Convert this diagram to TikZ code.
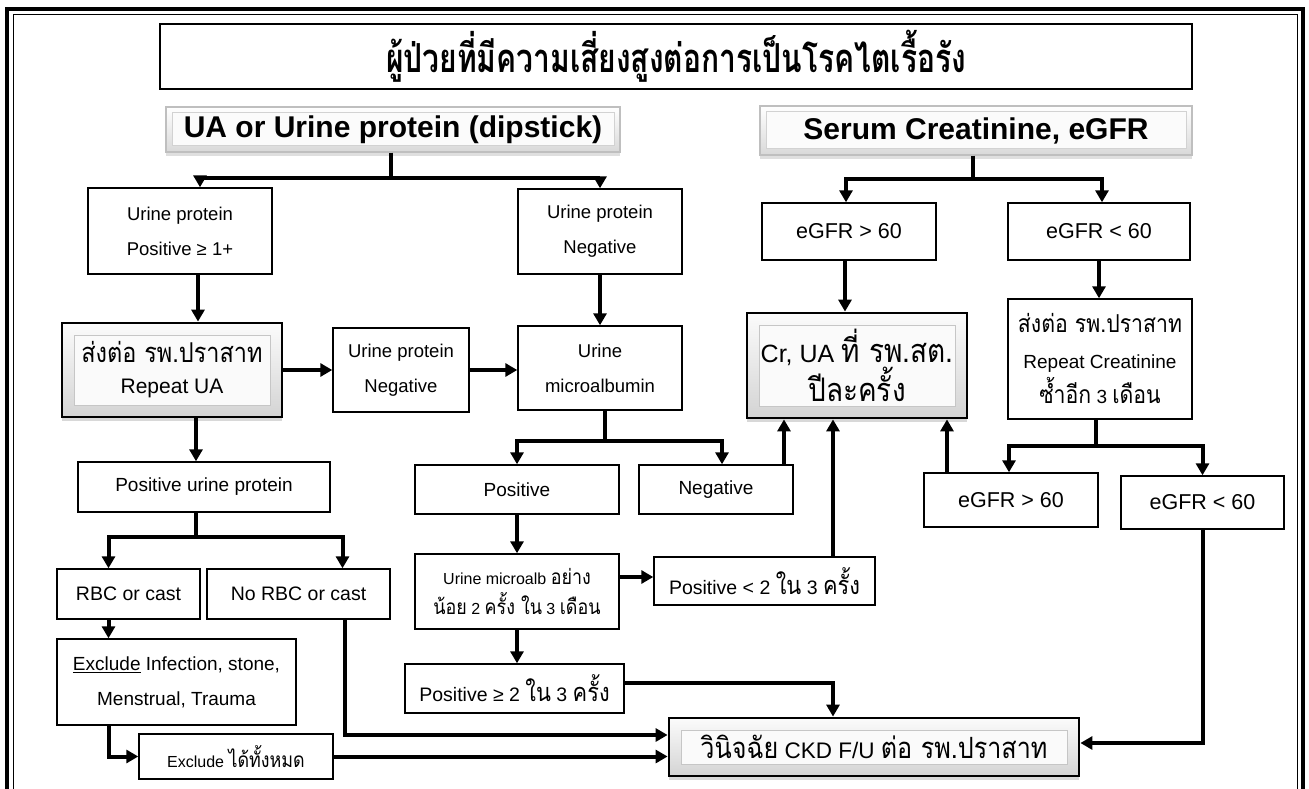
\documentclass[tikz,border=0pt]{standalone}
\usepackage{fontspec}
\setmainfont{Liberation Sans}
\newfontfamily\thaifont[Script=Thai,Scale=1.3,FakeStretch=0.86]{Loma}
\newfontfamily\thaititle[Script=Thai,Scale=1.25,FakeStretch=0.75]{Loma}
\newcommand\tht[1]{{\thaifont #1}}
\usetikzlibrary{arrows.meta,calc,shadows}

\tikzset{
  box/.style={draw,line width=1.4pt,rectangle,inner sep=0pt,align=center,fill=white},
  fs/.style={font=\fontsize{#1}{35}\selectfont},
  fancy/.style={draw,line width=2.8pt,rectangle,inner sep=0pt,align=center,
    top color=gray!3,bottom color=gray!34,
    drop shadow={opacity=0.3,shadow xshift=0pt,shadow yshift=-4pt},
    path picture={\draw[gray!45,line width=0.7pt,fill=gray!4]
      ([shift={(12pt,12pt)}]path picture bounding box.south west) rectangle
      ([shift={(-12pt,-12pt)}]path picture bounding box.north east);}},
  head/.style={draw=gray!50,line width=1.5pt,rectangle,inner sep=0pt,align=center,
    top color=white,bottom color=gray!30,
    drop shadow={opacity=0.25,shadow xshift=0pt,shadow yshift=-4pt},
    path picture={\draw[gray!35,line width=0.6pt,fill=gray!3]
      ([shift={(6pt,7pt)}]path picture bounding box.south west) rectangle
      ([shift={(-6pt,-5pt)}]path picture bounding box.north east);},
    font=\fontsize{30}{34}\selectfont\bfseries},
  ln/.style={line width=4pt},
  arr/.style={line width=4pt,-{Triangle[width=13pt,length=12pt]}},
}

\begin{document}
\begin{tikzpicture}[x=1pt,y=-1pt]
\useasboundingbox (0,0) rectangle (1309,789);
\clip (0,0) rectangle (1309,789);
\fill[white] (0,0) rectangle (1309,789);

% page frame (thick-thin double rule, open at the bottom)
\draw[line width=3.5pt] (7,9) rectangle (1303,830);
\draw[line width=1pt] (13,15) rectangle (1297,830);

% title
\node[box,minimum width=1032pt,minimum height=65pt,font=\fontsize{32}{36}\selectfont] (title) at (676,56.5)
  {\thaititle\bfseries ผู้ป่วยที่มีความเสี่ยงสูงต่อการเป็นโรคไตเรื้อรัง};

% headers
\node[head,minimum width=454pt,minimum height=45pt] (ua) at (393,129.5) {UA or Urine protein (dipstick)};
\node[head,minimum width=432pt,minimum height=49pt] (serum) at (976,130.5) {Serum Creatinine, eGFR};

% urine branch
\node[box,fs=18.5,minimum width=184pt,minimum height=86pt] (upp) at (180,231) {Urine protein\\Positive ≥ 1+};
\node[box,fs=18.5,minimum width=164pt,minimum height=85pt] (upn) at (600,231.5) {Urine protein\\Negative};
\node[fancy,font=\fontsize{21}{31}\selectfont,minimum width=220pt,minimum height=94pt] (rua) at (172,370)
  {\tht{ส่งต่อ รพ.ปราสาท}\\Repeat UA};
\node[box,fs=18.5,minimum width=136pt,minimum height=84pt] (upn2) at (401,370) {Urine protein\\Negative};
\node[box,fs=18.5,minimum width=164pt,minimum height=84pt] (micro) at (600,368) {Urine\\microalbumin};
\node[box,fs=19,minimum width=252pt,minimum height=50pt] (pup) at (204,487) {Positive urine protein};
\node[box,fs=19,minimum width=204pt,minimum height=49pt] (pos) at (517,489.5) {Positive};
\node[box,fs=19,minimum width=154pt,minimum height=49pt] (neg) at (716,489.5) {Negative};
\node[box,fs=19.5,minimum width=143pt,minimum height=50pt] (rbc) at (128.5,594) {RBC or cast};
\node[box,fs=19.5,minimum width=183pt,minimum height=50pt] (norbc) at (298.5,594) {No RBC or cast};
\node[box,font=\fontsize{16}{30}\selectfont,minimum width=204pt,minimum height=75pt] (mab) at (517,591.5)
  {Urine microalb \tht{อย่าง}\\\tht{น้อย} 2 \tht{ครั้ง ใน} 3 \tht{เดือน}};
\node[box,fs=19.5,minimum width=221pt,minimum height=48pt] (plt2) at (764.5,581) {Positive < 2 \tht{ใน} 3 \tht{ครั้ง}};
\node[box,fs=19,minimum width=239pt,minimum height=86pt] (excl) at (176.5,682)
  {\underline{Exclude} Infection, stone,\\Menstrual, Trauma};
\node[box,fs=19.5,minimum width=219pt,minimum height=49pt] (pge2) at (514.5,688.5) {Positive ≥ 2 \tht{ใน} 3 \tht{ครั้ง}};
\node[box,fs=16,minimum width=194pt,minimum height=45pt] (exall) at (236,756.5) {Exclude \tht{ได้ทั้งหมด}};

% creatinine branch
\node[box,font=\fontsize{21.5}{26}\selectfont,minimum width=174pt,minimum height=57pt] (e60a) at (849,231.5) {eGFR > 60};
\node[box,font=\fontsize{21.5}{26}\selectfont,minimum width=182pt,minimum height=57pt] (e60b) at (1099,231.5) {eGFR < 60};
\node[fancy,font=\fontsize{25}{37}\selectfont,minimum width=220pt,minimum height=105pt] (crua) at (857,365.5)
  {Cr, UA \tht{ที่ รพ.สต.}\\\tht{ปีละครั้ง}};
\node[box,font=\fontsize{19}{35.5}\selectfont,minimum width=184pt,minimum height=120pt] (rcr) at (1100,359)
  {\tht{ส่งต่อ รพ.ปราสาท}\\Repeat Creatinine\\\tht{ซ้ำอีก} 3 \tht{เดือน}};
\node[box,font=\fontsize{21.5}{26}\selectfont,minimum width=174pt,minimum height=54pt] (e60c) at (1011,500) {eGFR > 60};
\node[box,font=\fontsize{21.5}{26}\selectfont,minimum width=163pt,minimum height=53pt] (e60d) at (1202.5,502.5) {eGFR < 60};

% outcome
\node[fancy,font=\fontsize{22.5}{26}\selectfont,minimum width=410pt,minimum height=58pt] (ckd) at (874,747)
  {\tht{วินิจฉัย} CKD F/U \tht{ต่อ รพ.ปราสาท}};

% ---- connectors ----
% dipstick split
\coordinate (j1) at (391,178);
\draw[ln] (ua.south -| j1) -- (j1);
\draw[arr] (j1) -| ($(upp.north)+(20,0)$);
\draw[arr] (j1) -| (upn.north);

\coordinate (a1) at ($(upp.south)+(18,0)$);
\draw[arr] (a1) -- (a1 |- rua.north);
\draw[arr] (upn.south) -- (micro.north);
\draw[arr] (rua.east) -- (rua.east -| upn2.west);
\draw[arr] (upn2.east) -- (upn2.east -| micro.west);

% microalbumin split
\coordinate (j2) at (605,441);
\draw[ln] (micro.south -| j2) -- (j2);
\draw[arr] (j2) -| (pos.north);
\draw[arr] (j2) -| ($(neg.north)+(6,0)$);

% repeat UA result
\coordinate (a2) at ($(rua.south)+(24,0)$);
\draw[arr] (a2) -- (a2 |- pup.north);
\coordinate (j3) at (196,537);
\draw[ln] (a2 |- pup.south) -- (j3);
\draw[arr] (j3) -| ($(rbc.north)+(-20,0)$);
\draw[arr] (j3) -| ($(norbc.north)+(44,0)$);

\coordinate (a4) at ($(rbc.south)+(-20,0)$);
\draw[arr] (a4) -- (a4 |- excl.north);
\draw[arr] (a4 |- excl.south) |- (exall.west);
\coordinate (a5) at ($(norbc.south)+(46,0)$);
\draw[arr] (a5) |- ($(ckd.west)+(0,-12)$);
\draw[arr] (exall.east) -- (exall.east -| ckd.west);

% microalbumin follow-up
\draw[arr] (pos.south) -- (mab.north);
\coordinate (a6) at ($(mab.east)+(0,-14.5)$);
\draw[arr] (a6) -- (a6 -| plt2.west);
\draw[arr] (mab.south) -- (mab.south |- pge2.north);
\coordinate (a7) at ($(pge2.east)+(0,-5.5)$);
\draw[arr] (a7) -| ($(ckd.north)+(-41,0)$);
\coordinate (a8) at ($(neg.north)+(68,0)$);
\draw[arr] (a8) -- (a8 |- crua.south);
\coordinate (a9) at ($(plt2.north)+(68.5,0)$);
\draw[arr] (a9) -- (a9 |- crua.south);

% creatinine split
\coordinate (j4) at (973,179);
\draw[ln] (serum.south -| j4) -- (j4);
\draw[arr] (j4) -| ($(e60a.north)+(-3,0)$);
\draw[arr] (j4) -| ($(e60b.north)+(3,0)$);
\coordinate (a10) at ($(e60a.south)+(-4,0)$);
\draw[arr] (a10) -- (a10 |- crua.north);
\draw[arr] (e60b.south) -- (e60b.south |- rcr.north);

\coordinate (j5) at (1096,446);
\draw[ln] (rcr.south -| j5) -- (j5);
\draw[arr] (j5) -| ($(e60c.north)+(-2,0)$);
\draw[arr] (j5) -| (e60d.north);
\coordinate (a11) at ($(e60c.north)+(-64,0)$);
\draw[arr] (a11) -- (a11 |- crua.south);
\draw[arr] (e60d.south) |- ($(ckd.east)+(0,-4)$);
\end{tikzpicture}
\end{document}
